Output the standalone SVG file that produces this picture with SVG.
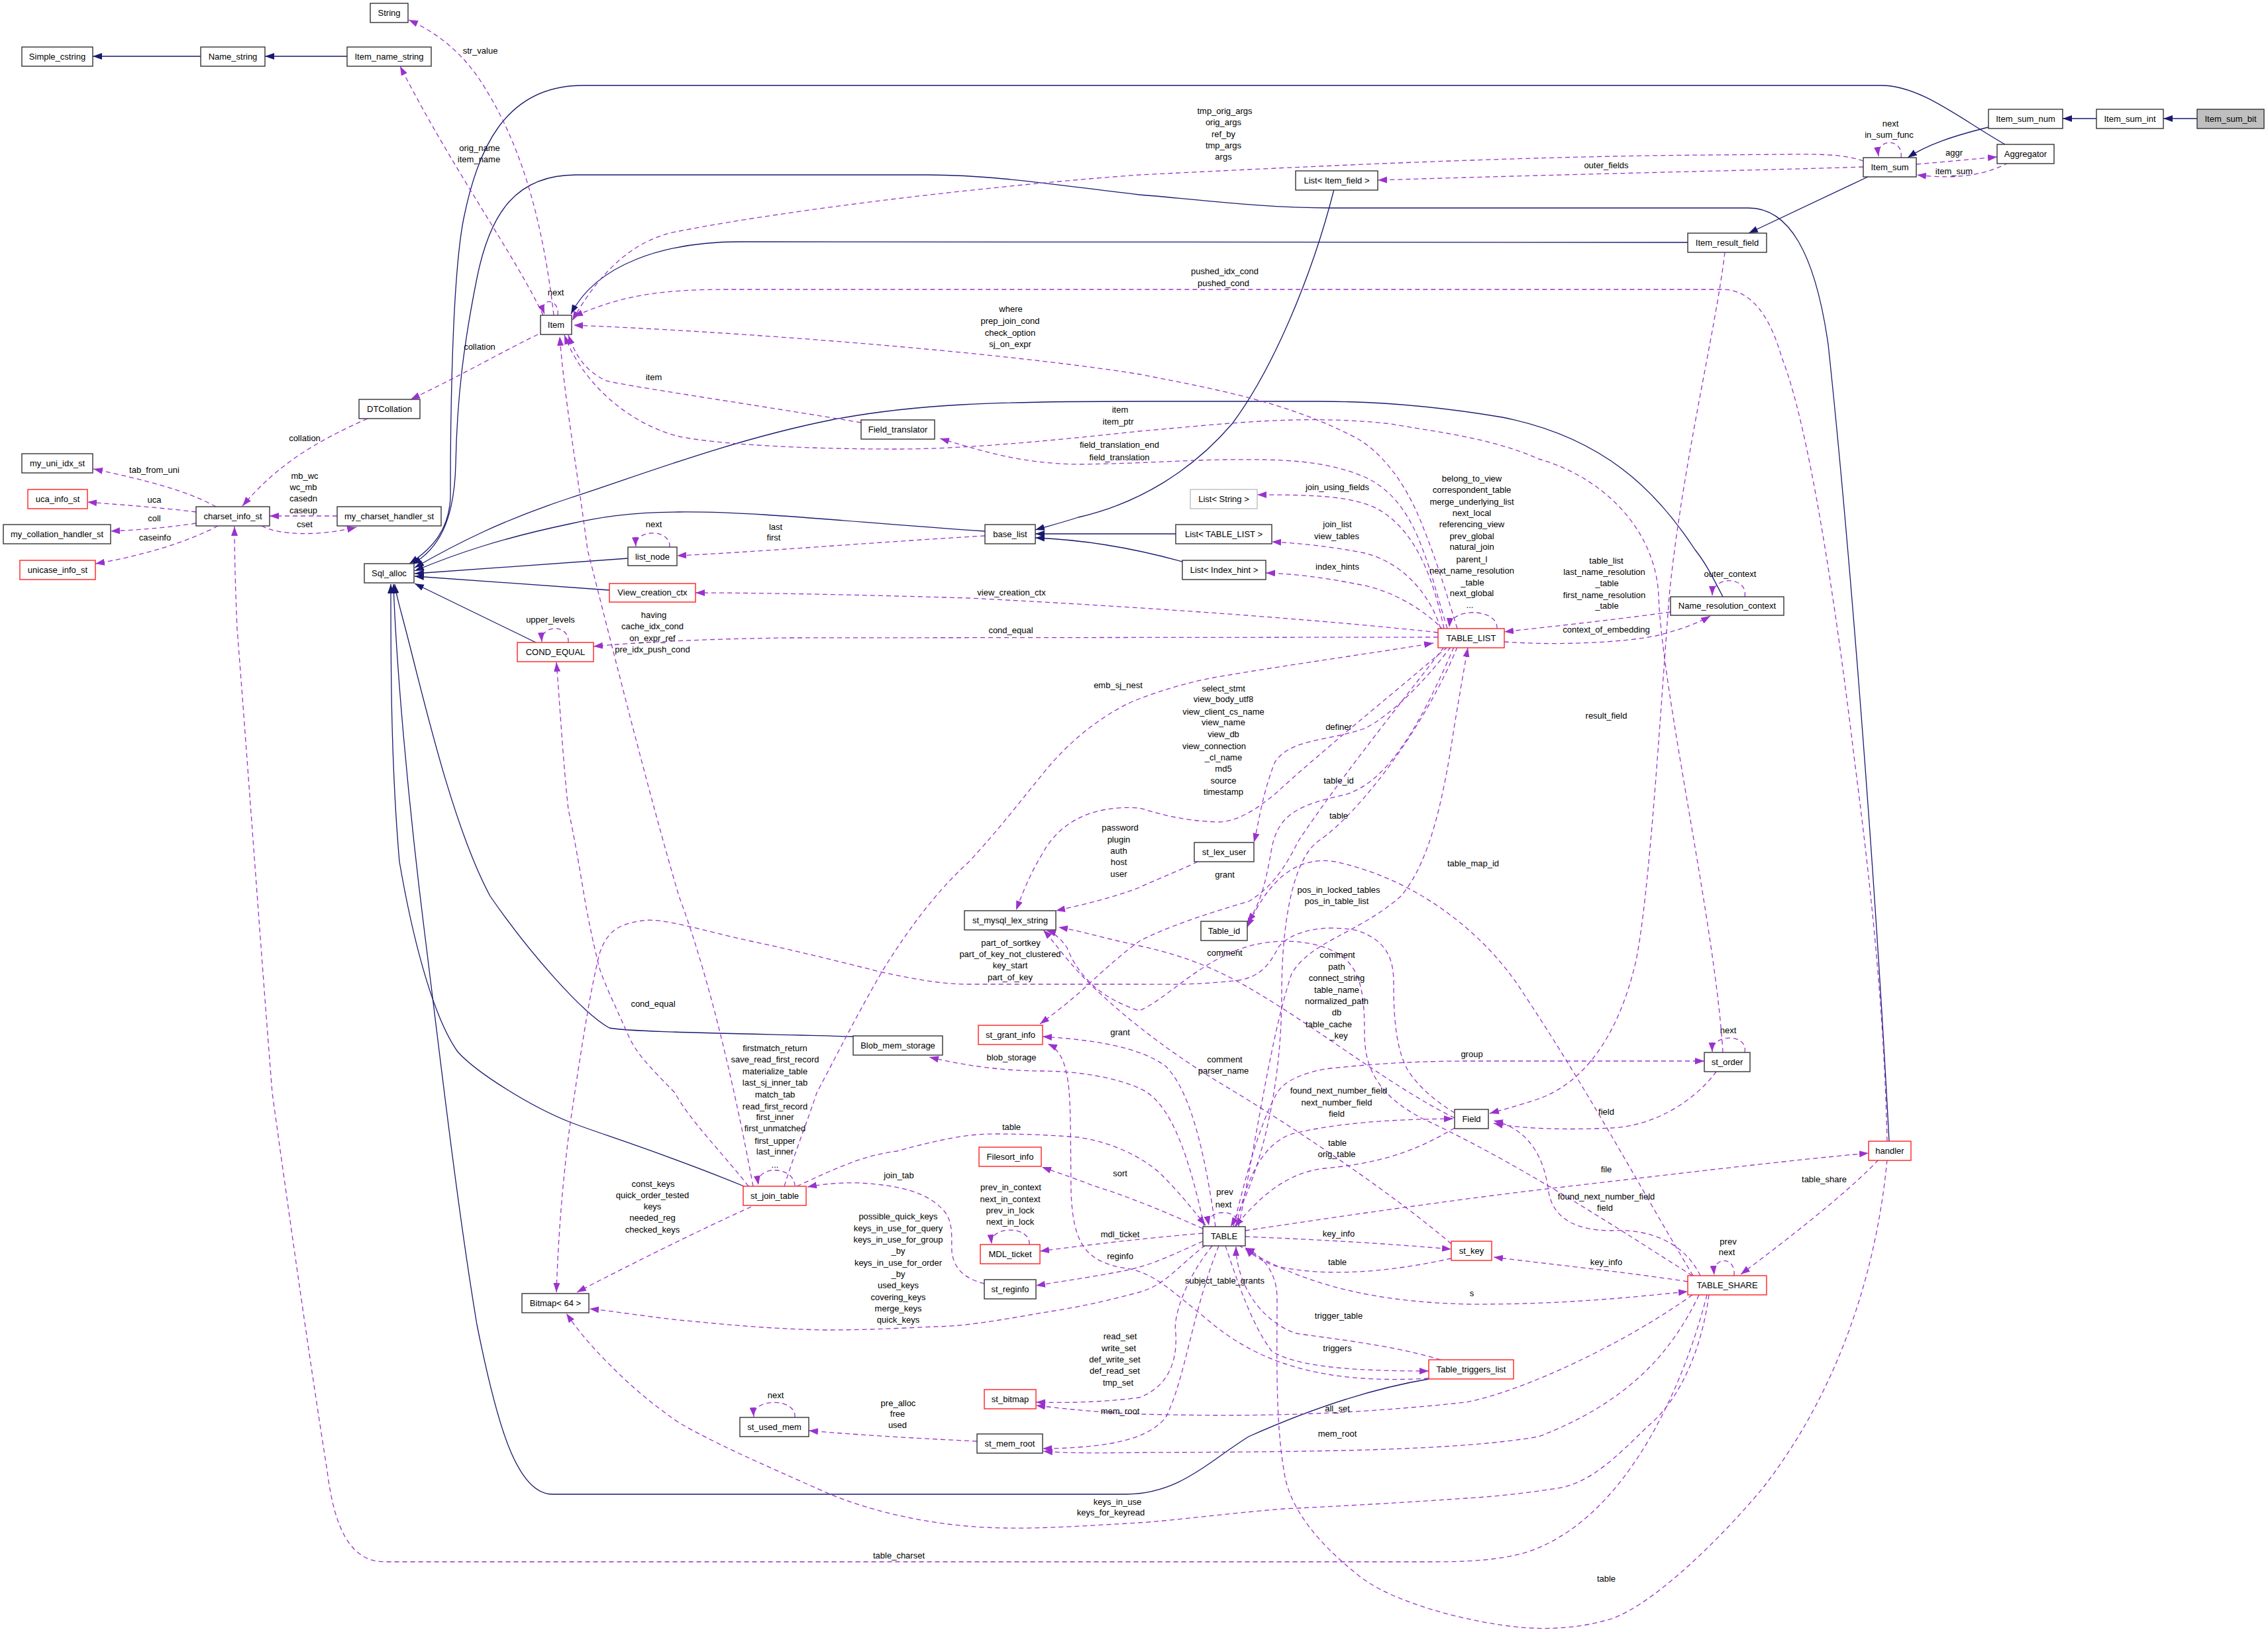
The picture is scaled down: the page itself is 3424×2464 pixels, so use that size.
<svg xmlns="http://www.w3.org/2000/svg" width="3424" height="2464" viewBox="0 0 3424 2464">
<style>
.bg{fill:#fff}
.nb{fill:#fff;stroke:#333;stroke-width:1.4}
.nr{fill:#fff;stroke:#ff2020;stroke-width:1.4}
.ng{fill:#fff;stroke:#bfbfbf;stroke-width:1.4}
.nf{fill:#bfbfbf;stroke:#333;stroke-width:1.4}
text{font-family:"Liberation Sans",Arial,sans-serif;font-size:13px;fill:#000;text-anchor:middle}
.i{fill:none;stroke:#191970;stroke-width:1.3;marker-end:url(#ai)}
.u{fill:none;stroke:#9a32cd;stroke-width:1.3;stroke-dasharray:7,5;marker-end:url(#au)}
</style>
<defs>
<marker id="ai" markerUnits="userSpaceOnUse" markerWidth="16" markerHeight="12" refX="14" refY="5" orient="auto"><path d="M0,0 L14,5 L0,10 z" fill="#191970"/></marker>
<marker id="au" markerUnits="userSpaceOnUse" markerWidth="16" markerHeight="12" refX="14" refY="5" orient="auto"><path d="M0,0 L14,5 L0,10 z" fill="#9a32cd"/></marker>
</defs>
<rect class="bg" x="0" y="0" width="3424" height="2464"/>

<g id="connectors">
<!-- inheritance -->
<path class="i" d="M3317,179 L3266,179"/>
<path class="i" d="M3165,179 L3114,179"/>
<path class="i" d="M524,85 L400,85"/>
<path class="i" d="M303,85 L140,85"/>
<path class="i" d="M3002,192 C2950,205 2910,218 2880,238"/>
<path class="i" d="M2822,266 L2640,352"/>
<path class="i" d="M2548,366 L1118,365 C1000,365 900,400 862,474"/>
<path class="i" d="M3027,218 C2960,180 2900,129 2840,129 L880,129 C760,129 720,230 700,330 C680,430 680,700 680,740 C682,800 650,830 618,851"/>
<path class="i" d="M2852,1723 C2830,1300 2790,800 2760,520 C2740,380 2700,314 2640,314 L2010,314 C1900,314 1800,300 1720,294 C1600,280 1500,264 1400,264 L870,264 C780,264 740,320 720,420 C700,520 690,600 688,700 C686,790 660,830 622,852"/>
<path class="i" d="M2601,901 C2585,870 2575,850 2559,830 C2500,740 2420,660 2268,630 C2150,610 2050,606 1994,606 L1720,606 C1500,606 1380,610 1255,634 C1100,665 960,720 860,752 C760,785 690,820 626,857"/>
<path class="i" d="M1487,802 C1300,790 1150,772 1025,773 C950,773 900,782 860,791 C760,812 690,835 626,862"/>
<path class="i" d="M948,843 L626,866"/>
<path class="i" d="M920,891 L626,870"/>
<path class="i" d="M809,970 L626,881"/>
<path class="i" d="M1288,1565 C1100,1560 950,1558 920,1552 C880,1530 800,1440 740,1353 C690,1260 650,1100 620,980 C605,920 598,900 596,882"/>
<path class="i" d="M1123,1791 C1000,1740 900,1710 860,1694 C800,1670 720,1620 691,1588 C650,1530 620,1400 603,1301 C590,1150 590,1000 590,882"/>
<path class="i" d="M2157,2082 C2050,2100 1950,2140 1885,2169 C1820,2210 1780,2255 1700,2256 L834,2256 C780,2256 750,2150 720,2000 C690,1820 665,1600 640,1400 C615,1200 598,1000 594,882"/>
<path class="i" d="M2014,286 C1980,420 1920,560 1860,640 C1800,710 1720,760 1628,781 C1600,790 1580,795 1563,800"/>
<path class="i" d="M1775,806 L1563,806"/>
<path class="i" d="M1785,848 C1720,830 1640,815 1563,812"/>

<!-- usage -->
<path class="u" d="M836,476 C820,340 790,220 724,120 C690,70 650,45 617,30"/>
<text x="725" y="81">str_value</text>
<path class="u" d="M820,476 C780,390 680,250 604,100"/>
<text x="724" y="228">orig_name</text><text x="723" y="245">item_name</text>
<path class="u" d="M842,476 C846,450 812,448 822,474"/>
<text x="839" y="446">next</text>
<path class="u" d="M812,505 C760,530 700,565 620,603"/>
<text x="724" y="528">collation</text>
<path class="u" d="M555,632 C480,665 420,700 366,764"/>
<text x="460" y="666">collation</text>
<path class="u" d="M326,765 C280,740 220,725 141,708"/>
<text x="233" y="714">tab_from_uni</text>
<path class="u" d="M296,773 C240,766 180,762 132,758"/>
<text x="233" y="759">uca</text>
<path class="u" d="M296,790 C250,797 210,800 167,802"/>
<text x="233" y="787">coll</text>
<path class="u" d="M329,794 C280,820 210,840 144,851"/>
<text x="234" y="816">caseinfo</text>
<path class="u" d="M509,779 L407,779"/>
<text x="460" y="723">mb_wc</text><text x="458" y="740">wc_mb</text><text x="458" y="757">casedn</text><text x="458" y="775">caseup</text>
<path class="u" d="M395,794 C420,808 480,810 538,796"/>
<text x="460" y="796">cset</text>
<path class="u" d="M2577,1955 C2540,2100 2450,2300 2300,2345 C2250,2358 2200,2358 2150,2358 L581,2358 C530,2358 505,2310 494,2221 C470,2070 440,1860 411,1650 C395,1450 370,1100 358,950 C355,880 354,830 354,795"/>
<text x="1357" y="2353">table_charset</text>

<path class="u" d="M2813,243 C2790,235 2760,232 2700,233 L2580,234 C2300,236 2000,250 1720,264 C1500,280 1200,315 1025,349 C950,362 900,420 864,484"/>
<text x="1849" y="172">tmp_orig_args</text><text x="1847" y="189">orig_args</text><text x="1847" y="207">ref_by</text><text x="1847" y="224">tmp_args</text><text x="1847" y="241">args</text>
<path class="u" d="M2813,252 C2700,256 2400,262 2080,272"/>
<text x="2425" y="254">outer_fields</text>
<path class="u" d="M2870,238 C2874,208 2832,208 2836,236"/>
<text x="2854" y="191">next</text><text x="2852" y="208">in_sum_func</text>
<path class="u" d="M2893,248 C2940,244 2980,240 3015,237"/>
<text x="2950" y="235">aggr</text>
<path class="u" d="M3032,246 C3000,262 2960,272 2894,264"/>
<text x="2950" y="263">item_sum</text>

<path class="u" d="M2849,1723 C2845,1550 2830,1380 2800,1150 C2770,900 2730,640 2690,540 C2670,470 2640,437 2600,437 L1100,437 C1000,437 940,445 866,478"/>
<text x="1849" y="414">pushed_idx_cond</text><text x="1847" y="432">pushed_cond</text>
<path class="u" d="M2200,949 C2185,900 2170,850 2150,800 C2120,720 2080,680 2049,662 C1950,610 1850,590 1720,565 C1500,530 1100,500 866,491"/>
<text x="1526" y="471">where</text><text x="1525" y="489">prep_join_cond</text><text x="1525" y="507">check_option</text><text x="1525" y="524">sj_on_expr</text>
<path class="u" d="M1300,638 C1100,605 960,585 915,575 C885,560 870,540 858,506"/>
<text x="987" y="574">item</text>
<path class="u" d="M2601,1589 C2590,1400 2510,1050 2504,900 C2500,800 2420,720 2323,693 C2250,660 2159,651 2100,640 C1967,625 1850,640 1720,651 C1573,667 1450,678 1354,678 C1200,678 1080,670 1025,659 C950,640 880,580 852,506"/>
<text x="1691" y="623">item</text><text x="1688" y="641">item_ptr</text>
<path class="u" d="M2185,949 C2170,900 2160,860 2148,830 C2130,780 2104,740 2060,720 C2000,695 1939,693 1850,694 C1780,695 1720,700 1628,701 C1540,700 1480,680 1419,662"/>
<text x="1690" y="676">field_translation_end</text><text x="1690" y="695">field_translation</text>
<path class="u" d="M1487,809 C1300,820 1150,833 1022,839"/>
<text x="1171" y="800">last</text><text x="1168" y="816">first</text>
<path class="u" d="M1011,826 C1013,798 958,798 960,825"/>
<text x="987" y="796">next</text>

<path class="u" d="M2180,949 C2165,880 2140,800 2077,767 C2040,750 1994,747 1898,747"/>
<text x="2019" y="740">join_using_fields</text>
<path class="u" d="M2175,949 C2160,900 2120,850 2060,835 C2010,825 1960,820 1920,818"/>
<text x="2019" y="796">join_list</text><text x="2018" y="814">view_tables</text>
<path class="u" d="M2180,952 C2150,920 2100,890 2049,882 C2000,872 1950,866 1911,865"/>
<text x="2019" y="860">index_hints</text>
<path class="u" d="M2260,949 C2262,918 2190,916 2188,947"/>
<text x="2222" y="727">belong_to_view</text><text x="2222" y="744">correspondent_table</text><text x="2222" y="762">merge_underlying_list</text><text x="2222" y="779">next_local</text><text x="2222" y="796">referencing_view</text><text x="2222" y="814">prev_global</text><text x="2222" y="830">natural_join</text><text x="2222" y="849">parent_l</text><text x="2222" y="866">next_name_resolution</text><text x="2223" y="884">_table</text><text x="2222" y="900">next_global</text><text x="2219" y="918">...</text>
<path class="u" d="M2522,924 C2420,938 2340,946 2271,954"/>
<text x="2425" y="851">table_list</text><text x="2422" y="868">last_name_resolution</text><text x="2426" y="885">_table</text><text x="2422" y="903">first_name_resolution</text><text x="2426" y="919">_table</text>
<path class="u" d="M2271,969 C2350,975 2450,970 2500,960 C2540,950 2565,940 2582,930"/>
<text x="2425" y="955">context_of_embedding</text>
<path class="u" d="M2634,901 C2640,870 2585,868 2585,899"/>
<text x="2612" y="871">outer_context</text>
<path class="u" d="M2171,955 C1990,935 1720,916 1463,903 C1300,898 1150,895 1050,895"/>
<text x="1527" y="899">view_creation_ctx</text>
<path class="u" d="M2171,962 L1189,963 C1050,965 960,970 896,976"/>
<text x="1526" y="956">cond_equal</text>
<path class="u" d="M858,970 C860,942 816,942 818,969"/>
<text x="831" y="940">upper_levels</text>

<path class="u" d="M1137,1791 C1120,1700 1080,1500 1025,1353 C980,1200 930,1000 887,830 C870,700 852,600 845,508"/>
<text x="987" y="933">having</text><text x="985" y="950">cache_idx_cond</text><text x="985" y="968">on_expr_ref</text><text x="985" y="985">pre_idx_push_cond</text>
<path class="u" d="M1130,1791 C1090,1740 1040,1690 1019,1650 C980,1610 960,1590 948,1562 C925,1510 910,1480 904,1458 C890,1400 885,1370 882,1353 C870,1280 862,1240 858,1222 C850,1150 845,1060 840,1000"/>
<text x="986" y="1520">cond_equal</text>
<path class="u" d="M1184,1791 C1200,1740 1220,1690 1233,1650 C1270,1580 1300,1520 1337,1458 C1380,1390 1420,1340 1463,1301 C1510,1250 1540,1210 1573,1170 C1620,1110 1680,1070 1720,1055 C1760,1040 1800,1028 1850,1020 C1950,1003 2080,985 2164,971"/>
<text x="1688" y="1039">emb_sj_nest</text>
<path class="u" d="M1200,1791 C1200,1760 1140,1758 1145,1789"/>
<text x="1170" y="1587">firstmatch_return</text><text x="1170" y="1604">save_read_first_record</text><text x="1170" y="1622">materialize_table</text><text x="1170" y="1639">last_sj_inner_tab</text><text x="1170" y="1657">match_tab</text><text x="1170" y="1675">read_first_record</text><text x="1170" y="1691">first_inner</text><text x="1170" y="1708">first_unmatched</text><text x="1170" y="1727">first_upper</text><text x="1170" y="1743">last_inner</text><text x="1170" y="1763">...</text>
<path class="u" d="M1134,1822 C1050,1860 950,1910 871,1951"/>
<text x="986" y="1792">const_keys</text><text x="985" y="1809">quick_order_tested</text><text x="985" y="1826">keys</text><text x="985" y="1843">needed_reg</text><text x="985" y="1861">checked_keys</text>
<path class="u" d="M1203,1791 C1260,1765 1300,1745 1354,1738 C1420,1720 1460,1712 1502,1712 C1560,1712 1600,1715 1628,1717 C1680,1725 1720,1745 1750,1770 C1780,1800 1800,1825 1820,1850"/>
<text x="1527" y="1706">table</text>
<path class="u" d="M1486,1938 C1455,1930 1440,1915 1437,1890 C1436,1870 1440,1845 1425,1828 C1400,1800 1360,1790 1299,1786 C1270,1785 1240,1788 1219,1792"/>
<text x="1357" y="1779">join_tab</text>

<path class="u" d="M2185,977 C2100,1050 2000,1130 1928,1196 C1900,1220 1870,1240 1841,1241 C1780,1240 1740,1225 1720,1220 C1650,1215 1600,1240 1573,1290 C1555,1320 1545,1345 1534,1374"/>
<text x="1847" y="1044">select_stmt</text><text x="1847" y="1060">view_body_utf8</text><text x="1847" y="1079">view_client_cs_name</text><text x="1847" y="1095">view_name</text><text x="1847" y="1113">view_db</text><text x="1833" y="1131">view_connection</text><text x="1847" y="1148">_cl_name</text><text x="1847" y="1165">md5</text><text x="1847" y="1183">source</text><text x="1847" y="1200">timestamp</text>
<path class="u" d="M1808,1301 C1780,1315 1740,1330 1720,1340 C1680,1355 1640,1365 1594,1375"/>
<text x="1691" y="1254">password</text><text x="1689" y="1272">plugin</text><text x="1689" y="1289">auth</text><text x="1689" y="1306">host</text><text x="1689" y="1324">user</text>
<path class="u" d="M2190,977 C2150,1030 2100,1080 2060,1100 C2000,1120 1950,1115 1925,1150 C1905,1200 1900,1245 1893,1272"/>
<text x="2021" y="1102">definer</text>
<path class="u" d="M2195,977 C2150,1080 2100,1180 2030,1200 C1960,1215 1930,1230 1920,1280 C1910,1340 1900,1370 1883,1392"/>
<text x="2021" y="1183">table_id</text>
<path class="u" d="M2200,977 C2150,1100 2050,1230 1990,1270 C1950,1300 1935,1400 1935,1500 C1935,1650 1900,1780 1858,1852"/>
<text x="2021" y="1236">table</text>
<path class="u" d="M1870,1852 C1900,1700 1920,1560 1950,1470 C1980,1420 2050,1410 2115,1353 C2160,1300 2180,1200 2195,1100 C2205,1040 2212,1000 2216,978"/>
<text x="2021" y="1348">pos_in_locked_tables</text><text x="2018" y="1365">pos_in_table_list</text>
<path class="u" d="M2556,1926 C2480,1800 2400,1650 2300,1500 C2250,1420 2150,1330 2016,1301 C1950,1290 1910,1340 1883,1400"/>
<text x="2224" y="1308">table_map_id</text>
<path class="u" d="M2180,977 C2100,1080 2020,1180 1960,1270 C1940,1310 1920,1340 1885,1361 C1820,1380 1760,1400 1720,1421 C1680,1450 1640,1490 1628,1500 C1605,1520 1585,1535 1570,1546"/>
<text x="1849" y="1325">grant</text>
<path class="u" d="M2196,1680 C2170,1665 2140,1640 2125,1615 C2105,1580 2104,1520 2104,1484 C2104,1450 2095,1420 2049,1405 C2000,1395 1950,1405 1930,1430 C1915,1460 1900,1475 1870,1480 C1800,1488 1760,1486 1720,1486 L1463,1486 C1420,1486 1380,1478 1332,1468 C1260,1450 1200,1435 1134,1421 C1060,1405 1000,1385 970,1390 C930,1395 915,1410 905,1440 C890,1500 875,1600 860,1702 C850,1780 843,1860 840,1951"/>
<text x="1526" y="1428">part_of_sortkey</text><text x="1525" y="1445">part_of_key_not_clustered</text><text x="1525" y="1462">key_start</text><text x="1525" y="1480">part_of_key</text>
<path class="u" d="M2196,1688 C2100,1640 2000,1560 1900,1500 C1850,1470 1800,1445 1720,1428 C1660,1415 1630,1405 1598,1400"/>
<text x="1849" y="1443">comment</text>
<path class="u" d="M2555,1926 C2450,1860 2300,1760 2150,1690 C2070,1650 2060,1600 2060,1560 C2060,1480 2050,1440 1980,1425 C1850,1400 1780,1500 1720,1526 C1670,1510 1630,1480 1611,1431 C1600,1415 1590,1408 1580,1405"/>
<text x="2019" y="1446">comment</text><text x="2018" y="1464">path</text><text x="2018" y="1481">connect_string</text><text x="2018" y="1499">table_name</text><text x="2018" y="1516">normalized_path</text><text x="2018" y="1533">db</text><text x="2006" y="1551">table_cache</text><text x="2021" y="1568">_key</text>
<path class="u" d="M2191,1878 C2100,1800 1950,1700 1850,1640 C1750,1580 1680,1520 1640,1480 C1610,1450 1590,1420 1575,1404"/>
<text x="1849" y="1604">comment</text><text x="1847" y="1621">parser_name</text>
<path class="u" d="M2604,381 C2590,500 2540,700 2520,900 C2505,1100 2490,1350 2470,1450 C2440,1580 2380,1640 2320,1660 C2290,1670 2270,1675 2249,1681"/>
<text x="2425" y="1085">result_field</text>
<path class="u" d="M1835,1852 C1820,1750 1800,1650 1760,1610 C1720,1580 1650,1570 1574,1565"/>
<text x="1691" y="1563">grant</text>
<path class="u" d="M2157,2081 C2000,2090 1900,2060 1820,1990 C1770,1950 1740,1920 1700,1915 C1640,1905 1620,1880 1617,1800 C1616,1700 1617,1650 1610,1620 C1605,1595 1595,1582 1582,1576"/>
<text x="1849" y="1938">subject_table_grants</text>
<path class="u" d="M1818,1852 C1790,1720 1760,1660 1720,1643 C1680,1625 1620,1617 1573,1617 C1520,1617 1460,1610 1403,1596"/>
<text x="1527" y="1601">blob_storage</text>
<path class="u" d="M1870,1852 C1874,1824 1820,1824 1825,1850"/>
<text x="1849" y="1804">prev</text><text x="1847" y="1823">next</text>
<path class="u" d="M1862,1852 C1880,1780 1900,1700 1928,1650 C1940,1630 1970,1620 2000,1614 C2080,1605 2150,1602 2214,1602 L2573,1602"/>
<text x="2222" y="1596">group</text>
<path class="u" d="M2634,1589 C2640,1560 2584,1560 2585,1588"/>
<text x="2609" y="1560">next</text>
<path class="u" d="M2591,1618 C2560,1660 2500,1700 2433,1703 C2370,1706 2300,1705 2255,1696"/>
<text x="2425" y="1683">field</text>
<path class="u" d="M1866,1852 C1880,1790 1900,1730 1950,1712 C2020,1695 2100,1690 2194,1689"/>
<text x="2021" y="1651">found_next_number_field</text><text x="2018" y="1669">next_number_field</text><text x="2018" y="1686">field</text>
<path class="u" d="M2196,1703 C2150,1730 2100,1755 2000,1764 C1940,1770 1900,1810 1864,1852"/>
<text x="2019" y="1730">table</text><text x="2018" y="1747">orig_table</text>
<path class="u" d="M1880,1858 C2000,1840 2200,1810 2378,1790 C2550,1770 2700,1752 2821,1741"/>
<text x="2425" y="1770">file</text>
<path class="u" d="M2567,1926 C2540,1870 2480,1855 2433,1858 C2380,1858 2345,1840 2338,1800 C2332,1750 2310,1705 2255,1692"/>
<text x="2425" y="1811">found_next_number_field</text><text x="2423" y="1828">field</text>
<path class="u" d="M1816,1855 C1760,1830 1700,1805 1650,1790 C1620,1778 1595,1770 1573,1762"/>
<text x="1691" y="1776">sort</text>
<path class="u" d="M1816,1862 C1720,1870 1640,1880 1570,1889"/>
<text x="1691" y="1868">mdl_ticket</text>
<path class="u" d="M1554,1879 C1556,1850 1494,1850 1497,1878"/>
<text x="1526" y="1797">prev_in_context</text><text x="1525" y="1815">next_in_context</text><text x="1525" y="1832">prev_in_lock</text><text x="1525" y="1849">next_in_lock</text>
<path class="u" d="M1816,1874 C1780,1890 1740,1910 1700,1918 C1650,1928 1600,1935 1564,1941"/>
<text x="1691" y="1901">reginfo</text>
<path class="u" d="M1820,1880 C1780,1910 1760,1940 1720,1951 C1650,1970 1600,1978 1573,1982 C1500,1995 1450,2003 1409,2003 C1350,2006 1300,2008 1244,2008 C1150,2006 1080,1998 1025,1993 C970,1987 930,1980 890,1976"/>
<text x="1356" y="1841">possible_quick_keys</text><text x="1356" y="1859">keys_in_use_for_query</text><text x="1356" y="1876">keys_in_use_for_group</text><text x="1356" y="1893">_by</text><text x="1356" y="1911">keys_in_use_for_order</text><text x="1356" y="1928">_by</text><text x="1356" y="1945">used_keys</text><text x="1356" y="1963">covering_keys</text><text x="1356" y="1980">merge_keys</text><text x="1356" y="1997">quick_keys</text>
<path class="u" d="M2580,1955 C2570,2030 2540,2110 2488,2153 C2440,2200 2400,2240 2351,2247 C2300,2255 2250,2260 2214,2262 C2100,2270 2000,2275 1939,2278 C1850,2285 1780,2295 1720,2299 C1650,2303 1580,2308 1518,2307 C1420,2306 1320,2285 1244,2252 C1150,2210 1080,2180 1025,2148 C970,2110 940,2080 915,2055 C890,2030 870,2005 855,1983"/>
<text x="1687" y="2272">keys_in_use</text><text x="1677" y="2288">keys_for_keyread</text>
<path class="u" d="M1880,1867 C2000,1872 2100,1878 2191,1886"/>
<text x="2021" y="1867">key_info</text>
<path class="u" d="M2191,1900 C2100,1920 2000,1930 1920,1910 C1900,1900 1890,1895 1880,1884"/>
<text x="2019" y="1910">table</text>
<path class="u" d="M2548,1935 C2450,1920 2350,1910 2255,1898"/>
<text x="2425" y="1910">key_info</text>
<path class="u" d="M1870,1880 C1950,1930 2050,1965 2214,1969 C2350,1970 2450,1960 2548,1950"/>
<text x="2222" y="1957">s</text>
<path class="u" d="M2175,2053 C2100,2030 2000,2020 1956,2013 C1920,2000 1890,1970 1875,1930 C1868,1910 1866,1895 1866,1882"/>
<text x="2021" y="1991">trigger_table</text>
<path class="u" d="M1850,1881 C1870,1940 1890,2000 1920,2040 C1960,2065 2050,2070 2157,2070"/>
<text x="2019" y="2040">triggers</text>
<path class="u" d="M1830,1881 C1790,1930 1770,1990 1775,2013 C1778,2060 1760,2095 1720,2110 C1660,2118 1600,2118 1564,2117"/>
<text x="1691" y="2022">read_set</text><text x="1689" y="2040">write_set</text><text x="1683" y="2057">def_write_set</text><text x="1683" y="2074">def_read_set</text><text x="1688" y="2092">tmp_set</text>
<path class="u" d="M2555,1955 C2450,2030 2300,2100 2214,2117 C2000,2140 1850,2138 1720,2135 C1650,2132 1600,2126 1564,2122"/>
<text x="2019" y="2131">all_set</text>
<path class="u" d="M1840,1881 C1800,1980 1790,2080 1760,2140 C1740,2165 1700,2180 1628,2185 C1600,2187 1590,2187 1574,2187"/>
<text x="1691" y="2135">mem_root</text>
<path class="u" d="M2565,1955 C2520,2050 2450,2120 2323,2169 C2200,2190 2000,2192 1720,2193 C1650,2194 1610,2194 1575,2191"/>
<text x="2019" y="2169">mem_root</text>
<path class="u" d="M1475,2176 C1350,2170 1280,2165 1221,2160"/>
<text x="1356" y="2123">pre_alloc</text><text x="1355" y="2139">free</text><text x="1355" y="2156">used</text>
<path class="u" d="M1200,2140 C1203,2110 1135,2110 1138,2139"/>
<text x="1171" y="2111">next</text>
<path class="u" d="M2849,1751 C2830,1950 2760,2120 2661,2247 C2600,2320 2500,2420 2433,2444 C2380,2460 2330,2460 2296,2457 C2220,2450 2100,2420 2049,2377 C1990,2330 1950,2280 1940,2230 C1925,2150 1928,2050 1928,1960 C1928,1920 1905,1895 1880,1884"/>
<text x="2425" y="2388">table</text>
<path class="u" d="M2836,1751 C2790,1800 2700,1870 2628,1924"/>
<text x="2754" y="1785">table_share</text>
<path class="u" d="M2618,1926 C2621,1896 2585,1896 2588,1925"/>
<text x="2609" y="1879">prev</text><text x="2607" y="1895">next</text>
</g>

<g id="n_Item_sum_bit"><rect class="nf" x="3317" y="165" width="101" height="29"/><text x="3367.5" y="184">Item_sum_bit</text></g>
<g id="n_Item_sum_int"><rect class="nb" x="3165" y="165" width="101" height="29"/><text x="3215.5" y="184">Item_sum_int</text></g>
<g id="n_Item_sum_num"><rect class="nb" x="3002" y="165" width="112" height="29"/><text x="3058" y="184">Item_sum_num</text></g>
<g id="n_Item_sum"><rect class="nb" x="2813" y="238" width="80" height="29"/><text x="2853" y="257">Item_sum</text></g>
<g id="n_Aggregator"><rect class="nb" x="3015" y="218" width="86" height="29"/><text x="3058" y="237">Aggregator</text></g>
<g id="n_Item_result_field"><rect class="nb" x="2548" y="352" width="119" height="29"/><text x="2607.5" y="371">Item_result_field</text></g>
<g id="n_List_Item_field"><rect class="nb" x="1956" y="258" width="124" height="29"/><text x="2018" y="277">List&lt; Item_field &gt;</text></g>
<g id="n_Item"><rect class="nb" x="816" y="476" width="47" height="29"/><text x="839.5" y="495">Item</text></g>
<g id="n_String"><rect class="nb" x="559" y="5" width="57" height="29"/><text x="587.5" y="24">String</text></g>
<g id="n_Item_name_string"><rect class="nb" x="524" y="71" width="127" height="29"/><text x="587.5" y="90">Item_name_string</text></g>
<g id="n_Name_string"><rect class="nb" x="303" y="71" width="97" height="29"/><text x="351.5" y="90">Name_string</text></g>
<g id="n_Simple_cstring"><rect class="nb" x="33" y="71" width="107" height="29"/><text x="86.5" y="90">Simple_cstring</text></g>
<g id="n_DTCollation"><rect class="nb" x="542" y="603" width="92" height="29"/><text x="588" y="622">DTCollation</text></g>
<g id="n_Field_translator"><rect class="nb" x="1300" y="634" width="111" height="29"/><text x="1355.5" y="653">Field_translator</text></g>
<g id="n_charset_info_st"><rect class="nb" x="296" y="765" width="111" height="29"/><text x="351.5" y="784">charset_info_st</text></g>
<g id="n_my_charset_handler_st"><rect class="nb" x="509" y="765" width="157" height="29"/><text x="587.5" y="784">my_charset_handler_st</text></g>
<g id="n_my_uni_idx_st"><rect class="nb" x="33" y="685" width="107" height="29"/><text x="86.5" y="704">my_uni_idx_st</text></g>
<g id="n_uca_info_st"><rect class="nr" x="42" y="739" width="90" height="29"/><text x="87" y="758">uca_info_st</text></g>
<g id="n_my_collation_handler_st"><rect class="nb" x="5" y="792" width="162" height="29"/><text x="86" y="811">my_collation_handler_st</text></g>
<g id="n_unicase_info_st"><rect class="nr" x="30" y="846" width="114" height="29"/><text x="87" y="865">unicase_info_st</text></g>
<g id="n_Sql_alloc"><rect class="nb" x="550" y="851" width="75" height="29"/><text x="587.5" y="870">Sql_alloc</text></g>
<g id="n_list_node"><rect class="nb" x="948" y="826" width="74" height="28"/><text x="985" y="845">list_node</text></g>
<g id="n_base_list"><rect class="nb" x="1487" y="792" width="76" height="29"/><text x="1525" y="811">base_list</text></g>
<g id="n_List_String"><rect class="ng" x="1797" y="739" width="101" height="29"/><text x="1847.5" y="758">List&lt; String &gt;</text></g>
<g id="n_List_TABLE_LIST"><rect class="nb" x="1775" y="792" width="145" height="29"/><text x="1847.5" y="811">List&lt; TABLE_LIST &gt;</text></g>
<g id="n_List_Index_hint"><rect class="nb" x="1785" y="846" width="126" height="29"/><text x="1848" y="865">List&lt; Index_hint &gt;</text></g>
<g id="n_View_creation_ctx"><rect class="nr" x="920" y="881" width="130" height="28"/><text x="985" y="899">View_creation_ctx</text></g>
<g id="n_COND_EQUAL"><rect class="nr" x="781" y="970" width="115" height="29"/><text x="838.5" y="989">COND_EQUAL</text></g>
<g id="n_TABLE_LIST"><rect class="nr" x="2171" y="949" width="100" height="29"/><text x="2221" y="968">TABLE_LIST</text></g>
<g id="n_Name_resolution_context"><rect class="nb" x="2522" y="901" width="171" height="28"/><text x="2607.5" y="919">Name_resolution_context</text></g>
<g id="n_st_lex_user"><rect class="nb" x="1803" y="1272" width="90" height="29"/><text x="1848" y="1291">st_lex_user</text></g>
<g id="n_st_mysql_lex_string"><rect class="nb" x="1456" y="1375" width="138" height="29"/><text x="1525" y="1394">st_mysql_lex_string</text></g>
<g id="n_Table_id"><rect class="nb" x="1813" y="1391" width="70" height="29"/><text x="1848" y="1410">Table_id</text></g>
<g id="n_st_grant_info"><rect class="nr" x="1477" y="1548" width="97" height="29"/><text x="1525.5" y="1567">st_grant_info</text></g>
<g id="n_Blob_mem_storage"><rect class="nb" x="1288" y="1564" width="135" height="29"/><text x="1355.5" y="1583">Blob_mem_storage</text></g>
<g id="n_st_order"><rect class="nb" x="2573" y="1589" width="69" height="29"/><text x="2607.5" y="1608">st_order</text></g>
<g id="n_Field"><rect class="nb" x="2196" y="1675" width="51" height="29"/><text x="2221.5" y="1694">Field</text></g>
<g id="n_handler"><rect class="nr" x="2821" y="1723" width="64" height="29"/><text x="2853" y="1742">handler</text></g>
<g id="n_Filesort_info"><rect class="nr" x="1478" y="1732" width="94" height="29"/><text x="1525" y="1751">Filesort_info</text></g>
<g id="n_st_join_table"><rect class="nr" x="1122" y="1791" width="95" height="29"/><text x="1169.5" y="1810">st_join_table</text></g>
<g id="n_TABLE"><rect class="nb" x="1816" y="1852" width="64" height="29"/><text x="1848" y="1871">TABLE</text></g>
<g id="n_st_key"><rect class="nr" x="2191" y="1874" width="61" height="29"/><text x="2221.5" y="1893">st_key</text></g>
<g id="n_MDL_ticket"><rect class="nr" x="1480" y="1879" width="90" height="29"/><text x="1525" y="1898">MDL_ticket</text></g>
<g id="n_TABLE_SHARE"><rect class="nr" x="2548" y="1926" width="119" height="29"/><text x="2607.5" y="1945">TABLE_SHARE</text></g>
<g id="n_st_reginfo"><rect class="nb" x="1486" y="1932" width="78" height="29"/><text x="1525" y="1951">st_reginfo</text></g>
<g id="n_Bitmap_64"><rect class="nb" x="788" y="1953" width="101" height="29"/><text x="838.5" y="1972">Bitmap&lt; 64 &gt;</text></g>
<g id="n_Table_triggers_list"><rect class="nr" x="2157" y="2053" width="128" height="29"/><text x="2221" y="2072">Table_triggers_list</text></g>
<g id="n_st_bitmap"><rect class="nr" x="1486" y="2098" width="78" height="29"/><text x="1525" y="2117">st_bitmap</text></g>
<g id="n_st_used_mem"><rect class="nb" x="1117" y="2140" width="104" height="29"/><text x="1169" y="2159">st_used_mem</text></g>
<g id="n_st_mem_root"><rect class="nb" x="1475" y="2165" width="99" height="29"/><text x="1524.5" y="2184">st_mem_root</text></g>
</svg>
